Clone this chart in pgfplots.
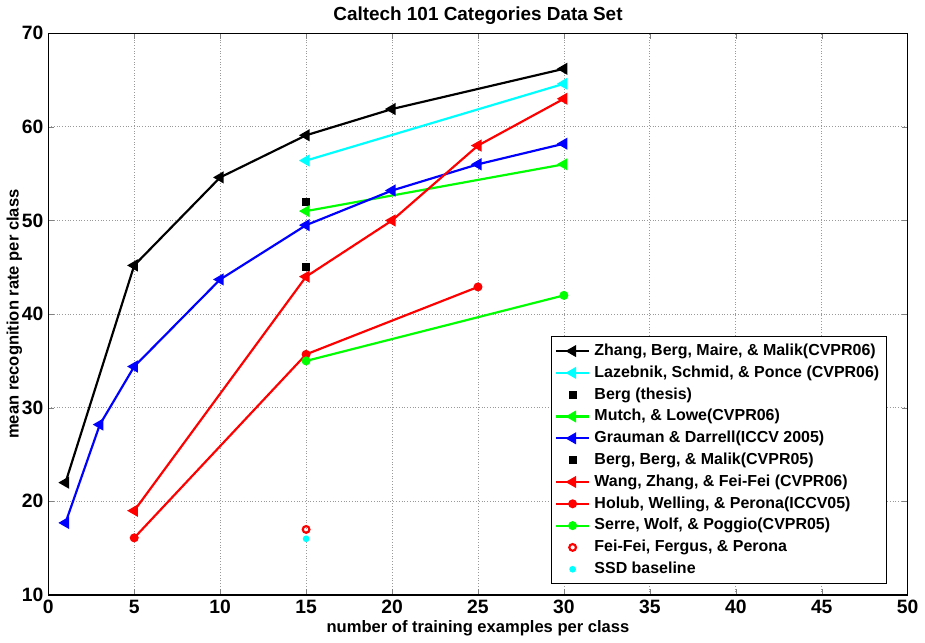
\documentclass[border=0pt]{standalone}
\usepackage{fontspec}
\setmainfont{Liberation Sans}
\usepackage{pgfplots}
\pgfplotsset{compat=1.18}
\definecolor{mcyan}{rgb}{0,1,1}
\definecolor{mgreen}{rgb}{0,1,0}
\definecolor{mblue}{rgb}{0,0,1}
\definecolor{mred}{rgb}{1,0,0}
\begin{document}
\begin{tikzpicture}
\begin{axis}[
  scale only axis, width=436pt, height=285pt,
  xmin=0, xmax=50, ymin=10, ymax=70,
  xtick={0,5,...,50}, ytick={10,20,...,70},
  grid=major, major grid style={densely dotted, gray!80, line width=0.4pt},
  tick align=inside, major tick length=3pt,
  axis line style={line width=0.7pt},
  /pgf/number format/assume math mode=true,
  tick label style={font=\bfseries\fontsize{9.8}{11}\selectfont},
  xticklabel style={yshift=1pt},
  yticklabel style={xshift=1pt},
  title={Caltech 101 Categories Data Set},
  title style={font=\bfseries\fontsize{9.6}{11}\selectfont, yshift=-5pt},
  xlabel={number of training examples per class},
  ylabel={mean recognition rate per class},
  label style={font=\bfseries\fontsize{8.4}{9.5}\selectfont},
  xlabel style={yshift=3.5pt},
  ylabel style={yshift=-7pt},
  legend style={at={(0.976,0.019)}, anchor=south east, draw=black, line width=0.7pt,
    font=\bfseries\fontsize{8.1}{9}\selectfont, row sep=-0.3pt, inner sep=1.6pt},
  legend cell align=left,
  every axis plot/.append style={line width=1.1pt},
]
\addplot[black, mark=triangle*, mark size=2.5pt, mark options={rotate=90}] coordinates {(1,22) (5,45.2) (10,54.6) (15,59.1) (20,61.9) (30,66.2)};
\addlegendentry{Zhang, Berg, Maire, \& Malik(CVPR06)}
\addplot[mcyan, mark=triangle*, mark size=2.5pt, mark options={rotate=90}] coordinates {(15,56.4) (30,64.6)};
\addlegendentry{Lazebnik, Schmid, \& Ponce (CVPR06)}
\addplot[black, only marks, mark=square*, mark size=1.5pt] coordinates {(15,52)};
\addlegendentry{Berg (thesis)}
\addplot[mgreen, mark=triangle*, mark size=2.5pt, mark options={rotate=90}] coordinates {(15,51) (30,56)};
\addlegendentry{Mutch, \& Lowe(CVPR06)}
\addplot[mblue, mark=triangle*, mark size=2.5pt, mark options={rotate=90}] coordinates {(1,17.7) (3,28.2) (5,34.4) (10,43.7) (15,49.5) (20,53.2) (25,56) (30,58.2)};
\addlegendentry{Grauman \& Darrell(ICCV 2005)}
\addplot[black, only marks, mark=square*, mark size=1.5pt] coordinates {(15,45)};
\addlegendentry{Berg, Berg, \& Malik(CVPR05)}
\addplot[mred, mark=triangle*, mark size=2.5pt, mark options={rotate=90}] coordinates {(5,19) (15,44) (20,50) (25,58) (30,63)};
\addlegendentry{Wang, Zhang, \& Fei-Fei (CVPR06)}
\addplot[mred, mark=*, mark size=1.7pt] coordinates {(5,16.1) (15,35.7) (25,42.9)};
\addlegendentry{Holub, Welling, \& Perona(ICCV05)}
\addplot[mgreen, mark=*, mark size=1.7pt] coordinates {(15,35) (30,42)};
\addlegendentry{Serre, Wolf, \& Poggio(CVPR05)}
\addplot[mred, only marks, mark=o, mark size=1.7pt] coordinates {(15,17)};
\addlegendentry{Fei-Fei, Fergus, \& Perona}
\addplot[mcyan, only marks, mark=*, mark size=1.1pt] coordinates {(15,16)};
\addlegendentry{SSD baseline}
\end{axis}
\end{tikzpicture}
\end{document}
